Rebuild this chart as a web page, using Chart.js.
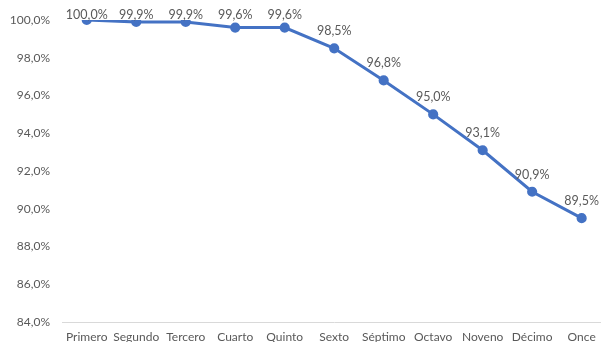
<!DOCTYPE html>
<html>
<head>
<meta charset="utf-8">
<script src="https://cdn.jsdelivr.net/npm/chart.js@4.4.1/dist/chart.umd.min.js"></script>
<style>
  html, body { margin: 0; padding: 0; background: #fff; overflow: hidden; }
  #wrap { width: 601px; height: 342px; overflow: hidden; position: relative; }
  #box { width: 613px; height: 342px; position: absolute; left: 0; top: 0; }
</style>
</head>
<body>
<div id="wrap"><div id="box"><canvas id="chart"></canvas></div></div>
<script>
// categories and values
const categories = ["Primero", "Segundo", "Tercero", "Cuarto", "Quinto", "Sexto", "Séptimo", "Octavo", "Noveno", "Décimo", "Once"];
const values = [100.0, 99.9, 99.9, 99.6, 99.6, 98.5, 96.8, 95.0, 93.1, 90.9, 89.5];
const yTicks = [84, 86, 88, 90, 92, 94, 96, 98, 100];

const fmt = (v) => v.toFixed(1).replace(".", ",") + "%";
const FONT = "Lato";
const GRAY = "#595959";

// simple data label plugin (no datalabels plugin available)
const pointLabels = {
  id: "pointLabels",
  afterDatasetsDraw(chart) {
    const ctx = chart.ctx;
    const meta = chart.getDatasetMeta(0);
    ctx.save();
    ctx.font = "12.5px " + FONT;
    ctx.fillStyle = GRAY;
    ctx.textAlign = "center";
    ctx.textBaseline = "middle";
    meta.data.forEach((pt, i) => {
      const y = Math.max(pt.y - 17, 15);
      ctx.fillText(fmt(values[i]), pt.x, y);
    });
    ctx.restore();
  }
};

new Chart(document.getElementById("chart"), {
  type: "line",
  data: {
    labels: categories,
    datasets: [{
      data: values,
      borderColor: "#4472C4",
      backgroundColor: "#4472C4",
      borderWidth: 3,
      pointRadius: 3.6,
      pointHoverRadius: 3.6,
      tension: 0,
      fill: false
    }]
  },
  options: {
    responsive: true,
    maintainAspectRatio: false,
    animation: false,
    layout: { padding: { top: 20, right: 0, left: 0, bottom: 0 } },
    plugins: {
      legend: { display: false },
      tooltip: { enabled: false }
    },
    scales: {
      x: {
        offset: true,
        grid: { display: false, drawTicks: false },
        border: { display: true, color: "#d9d9d9", width: 1 },
        ticks: { color: GRAY, font: { family: FONT, size: 12 }, padding: 8, maxRotation: 0, autoSkip: false },
        afterFit: (scale) => { scale.height = 20; }
      },
      y: {
        min: 84,
        max: 100,
        afterBuildTicks: (scale) => { scale.ticks = yTicks.map(v => ({ value: v })); },
        grid: { display: false, drawTicks: false },
        border: { display: false },
        ticks: {
          color: GRAY,
          font: { family: FONT, size: 12 },
          padding: 12,
          callback: (v) => fmt(v)
        },
        afterFit: (scale) => { scale.width = 62; }
      }
    }
  },
  plugins: [pointLabels]
});
</script>
</body>
</html>
